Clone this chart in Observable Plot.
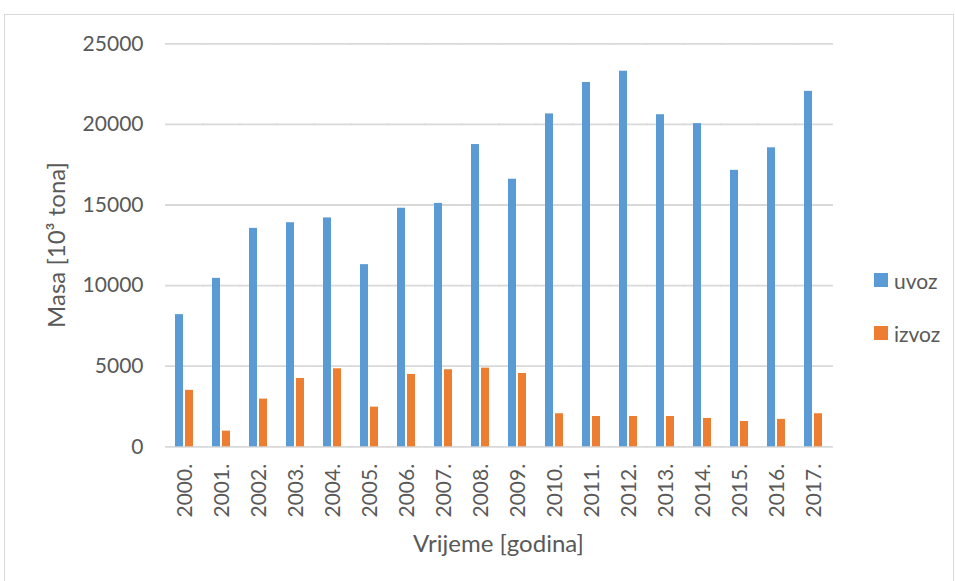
<!DOCTYPE html>
<html><head><meta charset="utf-8">
<script src="https://cdn.jsdelivr.net/npm/d3@7"></script>
<script src="https://cdn.jsdelivr.net/npm/@observablehq/plot@0.6"></script>
<style>
body{margin:0;background:#fff;font-family:Lato,sans-serif;}
#wrap{position:relative;width:955px;height:581px;overflow:hidden;}
#frame{position:absolute;left:4px;top:14px;width:950px;height:600px;border:1px solid #d9d9d9;box-sizing:border-box;}
#chart{position:absolute;left:0;top:0;}
.ttl{position:absolute;font-size:24px;line-height:24px;color:#595959;white-space:nowrap;text-align:center;}
.leg{position:absolute;left:874px;font-size:21px;line-height:21px;color:#595959;display:flex;align-items:center;}
.sw{width:14px;height:14px;margin-right:6px;}
</style></head><body>
<div id="wrap"><div id="frame"></div><div id="chart"></div></div>
<script>
const years = ["2000.","2001.","2002.","2003.","2004.","2005.","2006.","2007.","2008.","2009.","2010.","2011.","2012.","2013.","2014.","2015.","2016.","2017."];
const uvoz  = [8200,10450,13550,13900,14200,11300,14800,15100,18750,16600,20650,22600,23300,20600,20050,17150,18550,22050];
const izvoz = [3500,970,2960,4240,4840,2460,4490,4780,4880,4550,2050,1880,1880,1880,1760,1570,1700,2050];
const seriesNames = ["uvoz","izvoz"];
const seriesColors = ["#5B9BD5","#ED7D31"];
const yTicks = [0,5000,10000,15000,20000,25000];
const yTitle = "Masa [10³ tona]";
const xTitle = "Vrijeme [godina]";

const data = years.flatMap((y,i)=>[
  {year:y, series:seriesNames[0], value:uvoz[i]},
  {year:y, series:seriesNames[1], value:izvoz[i]}
]);

const chart = Plot.plot({
  width:955, height:581,
  marginTop:43.3, marginBottom:134.7, marginLeft:165, marginRight:123,
  style:{fontFamily:"Lato, sans-serif", color:"#595959", background:"transparent", overflow:"visible"},
  fx:{domain:years, padding:0, label:null, axis:null},
  x:{domain:seriesNames, paddingInner:0.19, paddingOuter:0.86, axis:null},
  y:{domain:[0,25000], label:null, axis:null},
  color:{domain:seriesNames, range:seriesColors},
  marks:[
    Plot.gridY(yTicks, {stroke:"#d9d9d9", strokeOpacity:1, strokeWidth:1.8, strokeLinecap:"square"}),
    Plot.barY(data, {fx:"year", x:"series", y:"value", fill:"series"}),
    Plot.axisY(yTicks, {anchor:"left", tickSize:0, tickPadding:23, fontSize:21, tickFormat:d=>String(d), label:null}),
    Plot.axisFx({anchor:"bottom", tickSize:0, tickRotate:-90, tickPadding:17, fontSize:21, label:null})
  ]
});
const wrap = document.getElementById("wrap");
document.getElementById("chart").appendChild(chart);

const yt = document.createElement("div");
yt.className = "ttl"; yt.textContent = yTitle;
yt.style.width = "300px"; yt.style.left = (56-150)+"px"; yt.style.top = (245-12)+"px";
yt.style.transform = "rotate(-90deg)";
wrap.appendChild(yt);

const xt = document.createElement("div");
xt.className = "ttl"; xt.textContent = xTitle;
xt.style.width = "300px"; xt.style.left = (498.5-150)+"px"; xt.style.top = "531px";
wrap.appendChild(xt);

const legY = [280, 333];
seriesNames.forEach((s,i)=>{
  const d = document.createElement("div");
  d.className = "leg"; d.style.top = (legY[i]-10.5)+"px";
  d.innerHTML = `<div class="sw" style="background:${seriesColors[i]}"></div><span>${s}</span>`;
  wrap.appendChild(d);
});
</script>
</body></html>
